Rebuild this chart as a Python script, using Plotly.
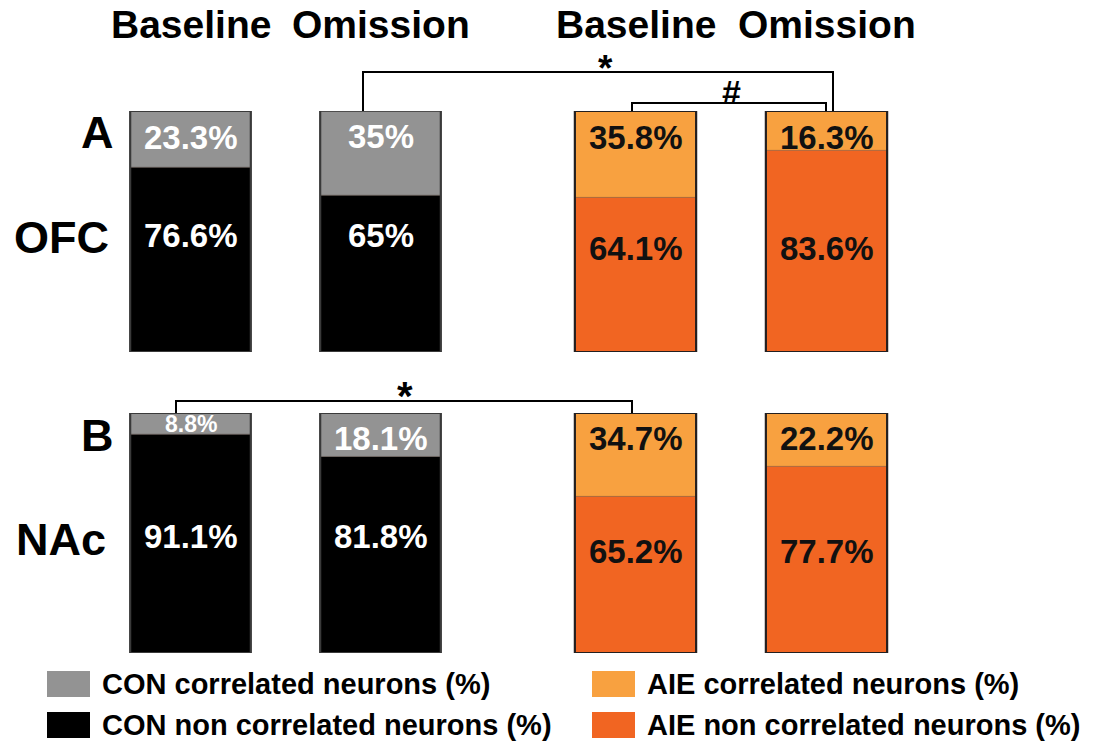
import plotly.graph_objects as go

W, H = 1097, 744

# ---- data -------------------------------------------------------------
conditions = ["Baseline", "Omission"]

ofc_con_corr = [23.3, 35]
ofc_con_non = [76.6, 65]
ofc_aie_corr = [35.8, 16.3]
ofc_aie_non = [64.1, 83.6]

nac_con_corr = [8.8, 18.1]
nac_con_non = [91.1, 81.8]
nac_aie_corr = [34.7, 22.2]
nac_aie_non = [65.2, 77.7]

legend_labels = [
    "CON correlated neurons (%)",
    "CON non correlated neurons (%)",
    "AIE correlated neurons (%)",
    "AIE non correlated neurons (%)",
]

# ---- styling ----------------------------------------------------------
FONT = "Liberation Sans, Arial, sans-serif"
GRAY = "#939393"
BLACK = "#000000"
LIGHT_OR = "#F8A140"
DARK_OR = "#F16522"

# pixel layout of the panels
CON_DOM_PX = (95.5, 475.5)
AIE_DOM_PX = (540.0, 922.0)
ROW_A_PX = (111.0, 352.0)   # top, bottom
ROW_B_PX = (413.0, 653.0)


def px2x(px):
    return px / W


def px2y(py):
    return 1 - py / H


def cat_px(dom, idx):
    step = (dom[1] - dom[0]) / len(conditions)
    return dom[0] + (idx + 0.5) * step


def text(x, y, s, size, color="black", xref="paper", yref="paper", xanchor="center"):
    return dict(x=x, y=y, xref=xref, yref=yref, text=f"<b>{s}</b>", showarrow=False,
                xanchor=xanchor, yanchor="middle",
                font=dict(family=FONT, size=size, color=color))


fig = go.Figure()

groups = [
    # (row yaxis, xaxis, corr, non, colours, outline, label colour, non-label level)
    ("y", "x", ofc_con_corr, ofc_con_non, GRAY, BLACK, "#3a3a3a", "white", 48.5),
    ("y", "x2", ofc_aie_corr, ofc_aie_non, LIGHT_OR, DARK_OR, "#231f20", "#111111", 43.0),
    ("y2", "x", nac_con_corr, nac_con_non, GRAY, BLACK, "#3a3a3a", "white", 48.3),
    ("y2", "x2", nac_aie_corr, nac_aie_non, LIGHT_OR, DARK_OR, "#231f20", "#111111", 42.2),
]

annotations = []
for yref, xref, corr, non, c_corr, c_non, edge, txt_col, non_level in groups:
    totals = [a + b for a, b in zip(corr, non)]
    seg_line = dict(color="rgba(60,40,30,0.45)", width=0.6)
    fig.add_trace(go.Bar(
        x=conditions, y=non, base=[0] * len(non), xaxis=xref, yaxis=yref,
        marker=dict(color=c_non, line=seg_line),
        showlegend=False, hoverinfo="skip"))
    fig.add_trace(go.Bar(
        x=conditions, y=corr, base=non, xaxis=xref, yaxis=yref,
        marker=dict(color=c_corr, line=seg_line),
        showlegend=False, hoverinfo="skip"))
    fig.add_trace(go.Bar(
        x=conditions, y=totals, base=[0] * len(totals), xaxis=xref, yaxis=yref,
        marker=dict(color="rgba(0,0,0,0)", line=dict(color=edge, width=2.2)),
        showlegend=False, hoverinfo="skip"))

    for cat, c, n, t in zip(conditions, corr, non, totals):
        small = c < 12
        annotations.append(text(cat, (n + t) / 2 if small else t - 10.8,
                                f"{c:g}%", 23 if small else 33, txt_col, xref, yref))
        annotations.append(text(cat, non_level, f"{n:g}%", 33, txt_col, xref, yref))

# column headers
for xref in ("x", "x2"):
    for cat in conditions:
        annotations.append(text(cat, px2y(25), cat, 39, xref=xref))

# panel letters and region names
for letter, region, (top, bottom) in (("A", "OFC", ROW_A_PX), ("B", "NAc", ROW_B_PX)):
    annotations.append(text(px2x(97), px2y(top + 22), letter, 45))
    annotations.append(text(px2x(61), px2y(top + 126), region, 45))

# significance brackets
shapes = []
line_style = dict(color="black", width=2)


def bracket(x0, x1, y_top, y_bot, mark, mark_x, mark_y, size):
    shapes.append(dict(
        type="path", xref="paper", yref="paper",
        path=(f"M {px2x(x0)},{px2y(y_bot)} L {px2x(x0)},{px2y(y_top)} "
              f"L {px2x(x1)},{px2y(y_top)} L {px2x(x1)},{px2y(y_bot)}"),
        line=line_style))
    annotations.append(text(px2x(mark_x), px2y(mark_y), mark, size))


bracket(cat_px(CON_DOM_PX, 1) - 17.5, cat_px(AIE_DOM_PX, 1) + 6.5, 72,
        ROW_A_PX[0], "*", 605, 68, 37)
bracket(cat_px(AIE_DOM_PX, 0) - 3.5, cat_px(AIE_DOM_PX, 1) - 0.5, 103,
        ROW_A_PX[0], "#", 731, 92, 34)
bracket(cat_px(CON_DOM_PX, 0) - 14.5, cat_px(AIE_DOM_PX, 0) - 3.5, 401,
        ROW_B_PX[0], "*", 405, 396, 40)

# legend swatches and labels
legend_items = [
    (legend_labels[0], GRAY, 47, 684),
    (legend_labels[1], BLACK, 47, 725),
    (legend_labels[2], LIGHT_OR, 592, 684),
    (legend_labels[3], DARK_OR, 592, 725),
]
for label, colour, x_px, y_px in legend_items:
    shapes.append(dict(
        type="rect", xref="paper", yref="paper",
        x0=px2x(x_px), x1=px2x(x_px + 43), y0=px2y(y_px - 13), y1=px2y(y_px + 13),
        fillcolor=colour, line=dict(width=0)))
    annotations.append(text(px2x(x_px + 53), px2y(y_px), label, 29, xanchor="left"))

axis_common = dict(visible=False, fixedrange=True)
fig.update_layout(
    width=W, height=H,
    margin=dict(l=0, r=0, t=0, b=0),
    paper_bgcolor="white", plot_bgcolor="white",
    barmode="overlay", bargap=0.365,
    xaxis=dict(domain=[px2x(CON_DOM_PX[0]), px2x(CON_DOM_PX[1])], type="category",
               categoryarray=conditions, range=[-0.5, 1.5], anchor="y", **axis_common),
    xaxis2=dict(domain=[px2x(AIE_DOM_PX[0]), px2x(AIE_DOM_PX[1])], type="category",
                categoryarray=conditions, range=[-0.5, 1.5], anchor="y", **axis_common),
    yaxis=dict(domain=[px2y(ROW_A_PX[1]), px2y(ROW_A_PX[0])], range=[0, 99.9],
               anchor="x", **axis_common),
    yaxis2=dict(domain=[px2y(ROW_B_PX[1]), px2y(ROW_B_PX[0])], range=[0, 99.9],
                anchor="x", **axis_common),
    annotations=annotations,
    shapes=shapes,
    showlegend=False,
)

fig.write_html("out.html")
